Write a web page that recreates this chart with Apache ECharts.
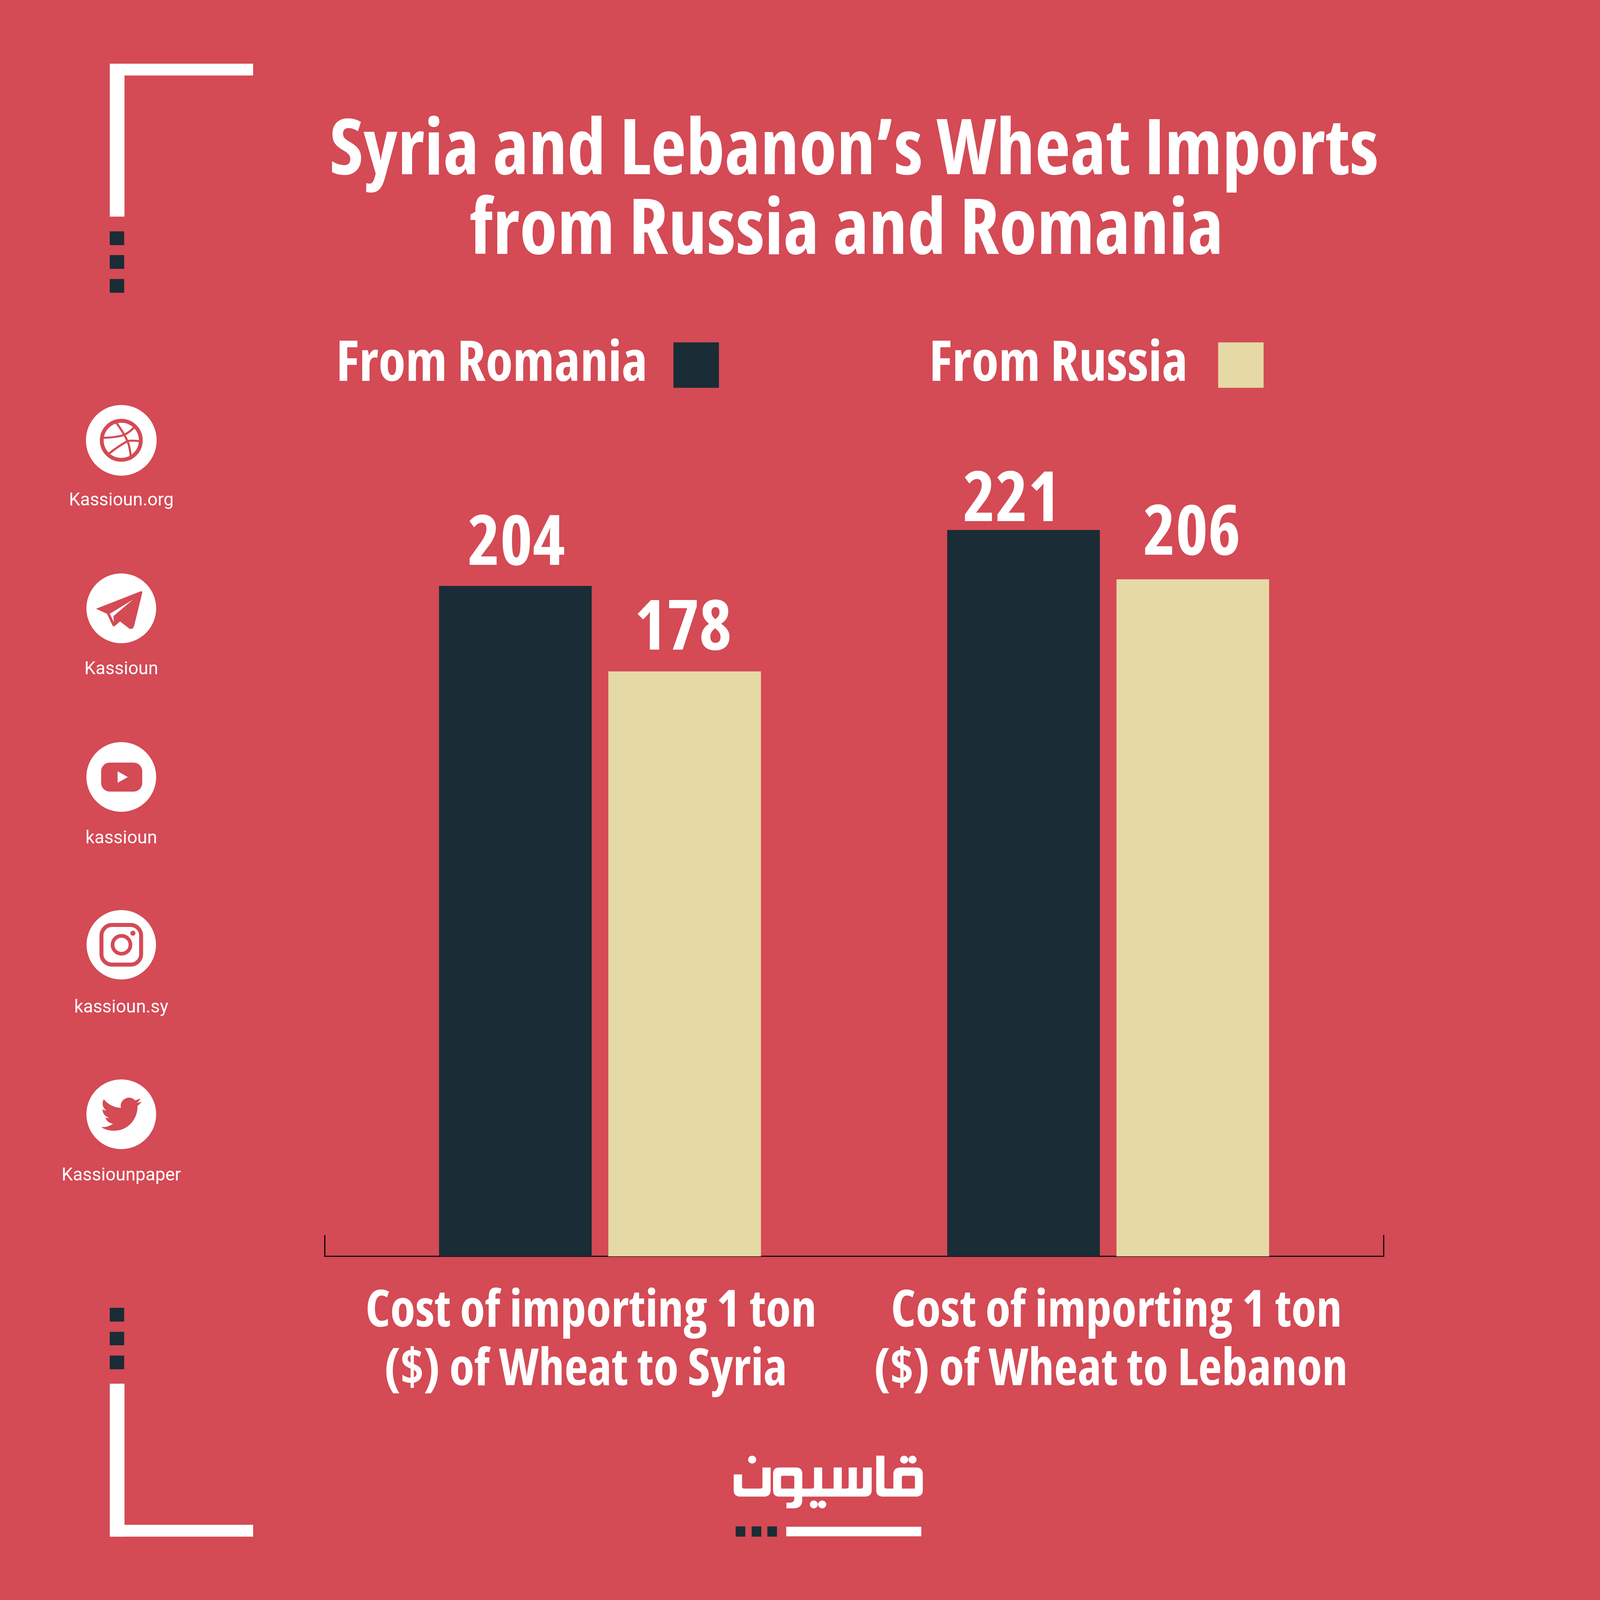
<!DOCTYPE html>
<html><head><meta charset="utf-8">
<style>html,body{margin:0;padding:0;background:#d44a55;overflow:hidden}#c{width:5000px;height:5000px;transform-origin:0 0}</style>
<script src="https://cdn.jsdelivr.net/npm/echarts@6/dist/echarts.min.js"></script>
</head><body><div id="c"></div>
<script>
const titleLines = ['Syria and Lebanon’s Wheat Imports', 'from Russia and Romania'];
const categories = ['Cost of importing 1 ton\n($) of Wheat to Syria', 'Cost of importing 1 ton\n($) of Wheat to Lebanon'];
const seriesNames = ['From Romania', 'From Russia'];
const romaniaValues = [204, 221];
const russiaValues = [178, 206];
const socialLabels = ['Kassioun.org', 'Kassioun', 'kassioun', 'kassioun.sy', 'Kassiounpaper'];

const BG = '#d44a55', DARK = '#1a2c35', SAND = '#e5d9a6', WHITE = '#ffffff';
const FAM = '"Open Sans"';
const STRETCH = 'semi-condensed';
const heavy = size => ({ fontFamily: FAM, fontStyle: STRETCH, fontWeight: 'bold', fontSize: size, color: WHITE });

const labelShift = [[[3, -19], [-37, 19]], [[-5, -22], [-3, -31]]];
const lineShift = { a0: -28, b0: -45, a1: 26, b1: 8 };
const legendTextPad = [[0, 76, 60, 0], [0, 90, 60, 0]];

function shifted(name, size) {
  const d = lineShift[name];
  return Object.assign(heavy(size), { lineHeight: 183, padding: d < 0 ? [0, -2 * d, 0, 0] : [0, 0, 0, 2 * d] });
}
function rect(x0, y0, x1, y1, fill) {
  return { type: 'rect', shape: { x: x0, y: y0, width: x1 - x0, height: y1 - y0 }, style: { fill } };
}
function circle(cx, cy, r, fill, stroke, lw) {
  return { type: 'circle', shape: { cx, cy, r }, style: { fill: fill || 'none', stroke: stroke || 'none', lineWidth: lw || 0 } };
}
let shapeCount = 0;
function path(d, x, y, sx, sy, style) {
  const name = 'decorPath' + (shapeCount++);
  echarts.graphic.registerShape(name, echarts.graphic.extendPath(d, {}));
  return { type: name, x, y, scaleX: sx, scaleY: sy, style };
}

const frame = [
  rect(343, 199, 791, 236, WHITE), rect(343, 199, 389, 677, WHITE),
  rect(343, 723, 388, 766, DARK), rect(343, 797, 388, 840, DARK), rect(343, 872, 388, 915, DARK),
  rect(343, 4087, 388, 4130, DARK), rect(343, 4162, 388, 4204, DARK), rect(343, 4236, 388, 4279, DARK),
  rect(343, 4324, 389, 4802, WHITE), rect(343, 4765, 791, 4802, WHITE),
  rect(2457, 4771, 2879, 4801, WHITE),
  rect(2299, 4770, 2329, 4802, DARK), rect(2349, 4770, 2379, 4802, DARK), rect(2398, 4770, 2428, 4802, DARK)
];

const logoPath =
  'M1055 297L1105 297L1105 590Q1105 605 1120 605L1160 605L1160 470Q1160 408 1205 408L1300 408Q1340 408 1340 470L1340 620Q1340 680 1300 680L1095 680Q1055 680 1055 620Z' +
  'M1212 605L1292 605L1292 495Q1292 485 1282 485L1222 485Q1212 485 1212 495Z' +
  'M1027 408L1027 620Q1027 680 985 680L602 680L602 710Q602 790 550 790L505 790L505 737L525 737Q553 737 553 700L553 680L460 680Q423 680 423 620L423 470Q423 408 460 408L565 408Q602 408 602 470L602 605L660 605Q674 605 674 590L674 408L724 408L724 605L794 605L794 408L844 408L844 605L872 605Q886 605 886 590L886 408L936 408L936 605L960 605Q974 605 974 590L974 408Z' +
  'M472 605L553 605L553 495Q553 485 543 485L482 485Q472 485 472 495Z' +
  'M358 408L408 408L408 620Q408 680 370 680L220 680Q182 680 182 620L182 473L233 473L233 590Q233 605 245 605L345 605Q358 605 358 590Z' +
  'M270 334a25 37 0 1 0 50 0a25 37 0 1 0 -50 0Z' +
  'M1201 334a25 37 0 1 0 50 0a25 37 0 1 0 -50 0Z' +
  'M1252 334a25 37 0 1 0 50 0a25 37 0 1 0 -50 0Z' +
  'M648 754a25 37 0 1 0 50 0a25 37 0 1 0 -50 0Z' +
  'M699 754a25 37 0 1 0 50 0a25 37 0 1 0 -50 0Z';
const logo = path(logoPath, 2200, 4450, 1 / 1.96, 1 / 3, { fill: WHITE });

const birdPath = 'M23.953 4.57a10 10 0 0 1-2.825.775 4.958 4.958 0 0 0 2.163-2.723c-.951.555-2.005.959-3.127 1.184a4.92 4.92 0 0 0-8.384 4.482C7.69 8.095 4.067 6.13 1.64 3.162a4.822 4.822 0 0 0-.666 2.475c0 1.71.87 3.213 2.188 4.096a4.904 4.904 0 0 1-2.228-.616v.06a4.923 4.923 0 0 0 3.946 4.827 4.996 4.996 0 0 1-2.212.085 4.936 4.936 0 0 0 4.604 3.417 9.867 9.867 0 0 1-6.102 2.105c-.39 0-.779-.023-1.17-.067a13.995 13.995 0 0 0 7.557 2.209c9.053 0 13.998-7.496 13.998-13.985 0-.21 0-.42-.015-.63A9.935 9.935 0 0 0 24 4.59z';

const iconCx = 379;
const iconCy = [1376, 1901, 2428, 2952.5, 3482];
const iconR = [110.5, 109, 109, 108.5, 109];
const labelMid = [1566, 2093, 2621, 3150, 3675];

function icons() {
  const out = [];
  iconCy.forEach((cy, i) => out.push(circle(iconCx, cy, iconR[i], WHITE)));
  const c = iconCx;
  let y = iconCy[0];
  out.push(circle(c, y, 61, 'none', BG, 12));
  const seam = { fill: 'none', stroke: BG, lineWidth: 6.5, lineCap: 'round' };
  out.push(path('M-17 -57Q8 -24 20 4Q28 24 30 57', c, y, 1, 1, seam));
  out.push(path('M-60 -8Q-28 -8 0 -14Q20 -20 38 -38', c, y, 1, 1, seam));
  out.push(path('M-39 42Q-12 20 20 2Q38 0 58 3', c, y, 1, 1, seam));
  y = iconCy[1];
  out.push(path('M-79 1.5L63 -54L66 -50.5L39.7 56.6L35 64L26 64L-3.7 41L-22 56.6L-27 55L-44.7 17Z', c, y, 1, 1, { fill: BG }));
  out.push(path('M37 -27.5L-36 17L-23 43.6L-24.7 24.5Z', c, y, 1, 1, { fill: WHITE }));
  y = iconCy[2];
  out.push({ type: 'rect', shape: { x: c - 63, y: y - 45, width: 128.5, height: 90.7, r: 27 }, style: { fill: BG } });
  out.push(path('M-11.5 -17.7L20.5 0.3L-11.5 18.3Z', c, y, 1, 1, { fill: WHITE }));
  y = iconCy[3];
  out.push({ type: 'rect', shape: { x: c - 62, y: y - 62, width: 124, height: 124, r: 33 }, style: { fill: 'none', stroke: BG, lineWidth: 12.5 } });
  out.push(circle(c + 0.7, y, 28, 'none', BG, 11.5));
  out.push(circle(c + 36.3, y - 36.3, 8, BG));
  y = iconCy[4];
  out.push(path(birdPath, c - 63.6, y - 63.6, 5.3, 5.3, { fill: BG }));
  socialLabels.forEach((t, i) => out.push({
    type: 'text', x: iconCx, y: labelMid[i],
    style: { text: t, fill: WHITE, font: '400 56px Roboto', align: 'center', verticalAlign: 'middle' }
  }));
  return out;
}

function barData(vals, s) {
  return vals.map((v, i) => ({ value: v, label: { offset: labelShift[s][i] } }));
}
function edgeAxis(position) {
  return { type: 'value', gridIndex: 1, min: 0, max: 1, position, splitLine: { show: false }, axisLabel: { show: false }, axisTick: { show: false },
    axisLine: { show: true, onZero: false, lineStyle: { color: '#000', width: 3.5 } } };
}

// The page is laid out in 5000-unit coordinates and fitted to whatever window it is opened in.
const fit = Math.min(window.innerWidth, 5000) / 5000;
const host = document.getElementById('c');
host.style.transform = 'scale(' + fit + ')';
const chart = echarts.init(host, null, { width: 5000, height: 5000, devicePixelRatio: fit });
chart.setOption({
  animation: false,
  backgroundColor: BG,
  title: [
    { text: titleLines[0], left: 2664, top: 350, textAlign: 'center', textStyle: heavy(241) },
    { text: titleLines[1], left: 2641, top: 599, textAlign: 'center', textStyle: heavy(241) }
  ],
  legend: {
    left: 1050, top: 1054, padding: 0, orient: 'horizontal', align: 'right', selectedMode: false,
    itemWidth: 142, itemHeight: 142, itemGap: 657, icon: 'rect',
    data: seriesNames.map((name, i) => ({ name, textStyle: { padding: legendTextPad[i] } })),
    textStyle: heavy(174)
  },
  grid: [
    { left: 1081, width: 3176, top: 1358.5, height: 2567.5 },
    { left: 1015, width: 3309, top: 3861, height: 65 }
  ],
  xAxis: [
    { type: 'category', gridIndex: 0, data: categories, axisLine: { show: false }, axisTick: { show: false },
      axisLabel: { margin: 82, interval: 0,
        formatter: (v, i) => { const p = v.split('\n'); return '{a' + i + '|' + p[0] + '}\n{b' + i + '|' + p[1] + '}'; },
        rich: { a0: shifted('a0', 160.5), b0: shifted('b0', 160.5), a1: shifted('a1', 160.5), b1: shifted('b1', 160.5) } } },
    { type: 'category', gridIndex: 1, data: [''], axisLabel: { show: false }, axisTick: { show: false },
      axisLine: { lineStyle: { color: '#000', width: 3.5 } } }
  ],
  yAxis: [
    { type: 'value', gridIndex: 0, min: 0, max: 250, show: false },
    edgeAxis('left'),
    edgeAxis('right')
  ],
  series: [
    { name: seriesNames[0], type: 'bar', xAxisIndex: 0, yAxisIndex: 0, z: 5, data: barData(romaniaValues, 0), barWidth: 477, barGap: '10.9%',
      itemStyle: { color: DARK }, label: Object.assign(heavy(216), { show: true, position: 'top', distance: 0 }) },
    { name: seriesNames[1], type: 'bar', xAxisIndex: 0, yAxisIndex: 0, z: 5, data: barData(russiaValues, 1), barWidth: 477, barGap: '10.9%',
      itemStyle: { color: SAND }, label: Object.assign(heavy(216), { show: true, position: 'top', distance: 0 }) }
  ],
  graphic: { elements: frame.concat([logo]).concat(icons()) }
});
</script></body></html>
